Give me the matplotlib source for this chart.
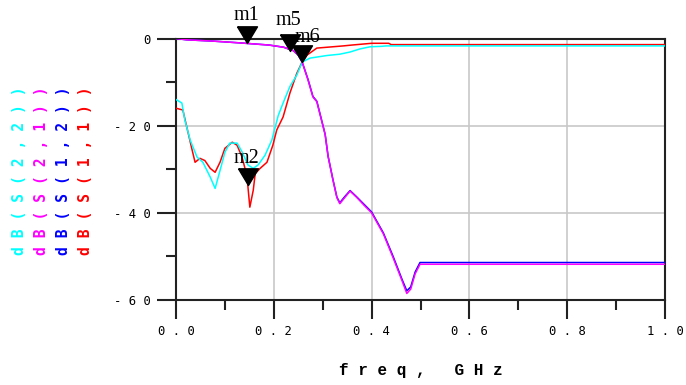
import matplotlib
matplotlib.use("Agg")
import matplotlib.pyplot as plt
from matplotlib.ticker import MultipleLocator, FuncFormatter

# ---- data ----
freq_s11 = [0.0, 0.014, 0.022, 0.033, 0.039, 0.049, 0.059, 0.07, 0.08, 0.09, 0.1, 0.115,
            0.125, 0.135, 0.145, 0.151, 0.158, 0.162, 0.172, 0.186, 0.198, 0.206, 0.219,
            0.233, 0.247, 0.258, 0.268, 0.288, 0.342, 0.36, 0.40, 0.435, 0.44, 1.0]
s11_db = [-16.0, -16.4, -20.3, -25.6, -28.4, -27.5, -28.0, -29.8, -30.7, -28.4, -25.2, -23.8,
          -24.5, -27.2, -31.5, -38.7, -34.8, -31.0, -29.8, -28.4, -24.5, -21.0, -18.0,
          -12.5, -8.0, -5.4, -3.8, -2.2, -1.7, -1.5, -1.1, -1.1, -1.4, -1.4]

freq_s22 = [0.0, 0.012, 0.018, 0.029, 0.043, 0.055, 0.07, 0.08, 0.09, 0.1, 0.11, 0.125,
            0.135, 0.147, 0.158, 0.168, 0.182, 0.196, 0.209, 0.219, 0.233, 0.247, 0.258,
            0.274, 0.309, 0.335, 0.356, 0.376, 0.397, 0.42, 0.43, 1.0]
s22_db = [-14.0, -14.8, -18.7, -23.3, -27.2, -28.4, -31.8, -34.4, -30.3, -26.1, -24.0, -24.0,
          -26.0, -29.0, -29.8, -29.0, -26.8, -23.3, -17.7, -14.8, -11.0, -8.4, -5.4,
          -4.5, -3.9, -3.6, -3.1, -2.4, -1.9, -1.8, -1.7, -1.7]

freq_s21 = [0.0, 0.022, 0.076, 0.13, 0.19, 0.22, 0.24, 0.25, 0.258, 0.27, 0.28, 0.288,
            0.297, 0.305, 0.311, 0.321, 0.329, 0.335, 0.345, 0.356, 0.37, 0.385, 0.40,
            0.424, 0.444, 0.462, 0.472, 0.48, 0.489, 0.499, 1.0]
s21_db = [0.0, -0.3, -0.6, -1.0, -1.5, -2.0, -2.8, -3.8, -5.4, -9.5, -13.4, -14.5,
          -18.5, -22.0, -27.0, -32.5, -36.5, -37.9, -36.5, -35.0, -36.5, -38.3, -40.0,
          -44.8, -50.3, -55.5, -58.5, -57.5, -54.0, -51.8, -51.8]
s12_db = [0.0, -0.3, -0.6, -1.0, -1.5, -2.0, -2.8, -3.8, -5.4, -9.4, -13.3, -14.4,
          -18.4, -22.0, -27.0, -32.4, -36.4, -37.7, -36.3, -34.9, -36.4, -38.1, -39.8,
          -44.6, -50.0, -55.2, -57.9, -57.0, -53.6, -51.4, -51.4]

# markers
marker_names = ["m1", "m2", "m6", "m5"]
marker_freq = [0.145, 0.147, 0.258, 0.233]
marker_db = [-1.05, -33.7, -5.4, -2.8]

legend_labels = ["dB(S(2,2))", "dB(S(2,1))", "dB(S(1,2))", "dB(S(1,1))"]
legend_colors = ["#00ffff", "#ff00ff", "#0000ff", "#ff0000"]

x_label = "freq, GHz"

W, H = 686, 385
fig = plt.figure(figsize=(W / 100, H / 100), dpi=100)
ax = fig.add_axes([176 / W, 1 - 300 / H, (665 - 176) / W, (300 - 38.5) / H])

ax.plot(freq_s11, s11_db, color="#ff0000", lw=1.1, zorder=3)
ax.plot(freq_s22, s22_db, color="#00ffff", lw=1.1, zorder=3)
ax.plot(freq_s21, s12_db, color="#0000ff", lw=1.1, zorder=3)
ax.plot(freq_s21, s21_db, color="#ff00ff", lw=1.1, zorder=4)

ax.set_xlim(0, 1.0)
ax.set_ylim(-60, 0)

ax.xaxis.set_major_locator(MultipleLocator(0.2))
ax.xaxis.set_minor_locator(MultipleLocator(0.1))
ax.yaxis.set_major_locator(MultipleLocator(20))
ax.yaxis.set_minor_locator(MultipleLocator(10))


def spaced(s):
    return " ".join(list(s))


ax.xaxis.set_major_formatter(FuncFormatter(lambda v, p: spaced(f"{v:.1f}")))
ax.yaxis.set_major_formatter(FuncFormatter(lambda v, p: spaced(f"{v:.0f}")))

ax.grid(True, which="major", color="#c8c8c8", lw=1.2)
ax.set_axisbelow(True)
for s in ax.spines.values():
    s.set_color("#222222")
    s.set_linewidth(1.5)

ax.tick_params(axis="both", which="major", direction="out", length=14, width=1.5,
               color="#222222", labelsize=8.8, pad=4)
ax.tick_params(axis="both", which="minor", direction="out", length=7, width=1.5,
               color="#222222")
for lab in ax.get_xticklabels() + ax.get_yticklabels():
    lab.set_family("DejaVu Sans Mono")

ax.set_xlabel(spaced(x_label), family="Liberation Mono", fontsize=11.5, fontweight="bold",
              labelpad=18)

# markers (tip at data point)
tri = [(-0.6, 1.0), (0.6, 1.0), (0.0, 0.0), (-0.6, 1.0)]
for name, f, d in zip(marker_names, marker_freq, marker_db):
    ax.plot([f], [d], marker=tri, markersize=24, color="black", lw=0, zorder=6,
            clip_on=False)

ax.text(marker_freq[0], 3.1, "m1", ha="center", va="bottom", family="Liberation Serif",
        fontsize=14.5, zorder=7, clip_on=False)
ax.text(marker_freq[1] - 0.004, -27.5, "m2", ha="center", va="center",
        family="Liberation Serif", fontsize=14.5, zorder=7)
ax.text(0.268, -1.9, "m6", ha="center", va="bottom", family="Liberation Serif",
        fontsize=14.5, zorder=5, clip_on=False)
ax.text(marker_freq[3] - 0.004, 1.9, "m5", ha="center", va="bottom",
        family="Liberation Serif", fontsize=14.5, zorder=8, clip_on=False)

# rotated legend on the left
for i, (lab, col) in enumerate(zip(legend_labels, legend_colors)):
    fig.text((20 + 21.7 * i) / W, 1 - 171 / H, spaced(lab), rotation=90, color=col,
             ha="center", va="center", family="DejaVu Sans Mono", fontsize=10.6,
             fontweight="bold")

fig.savefig("out.png", dpi=100)
